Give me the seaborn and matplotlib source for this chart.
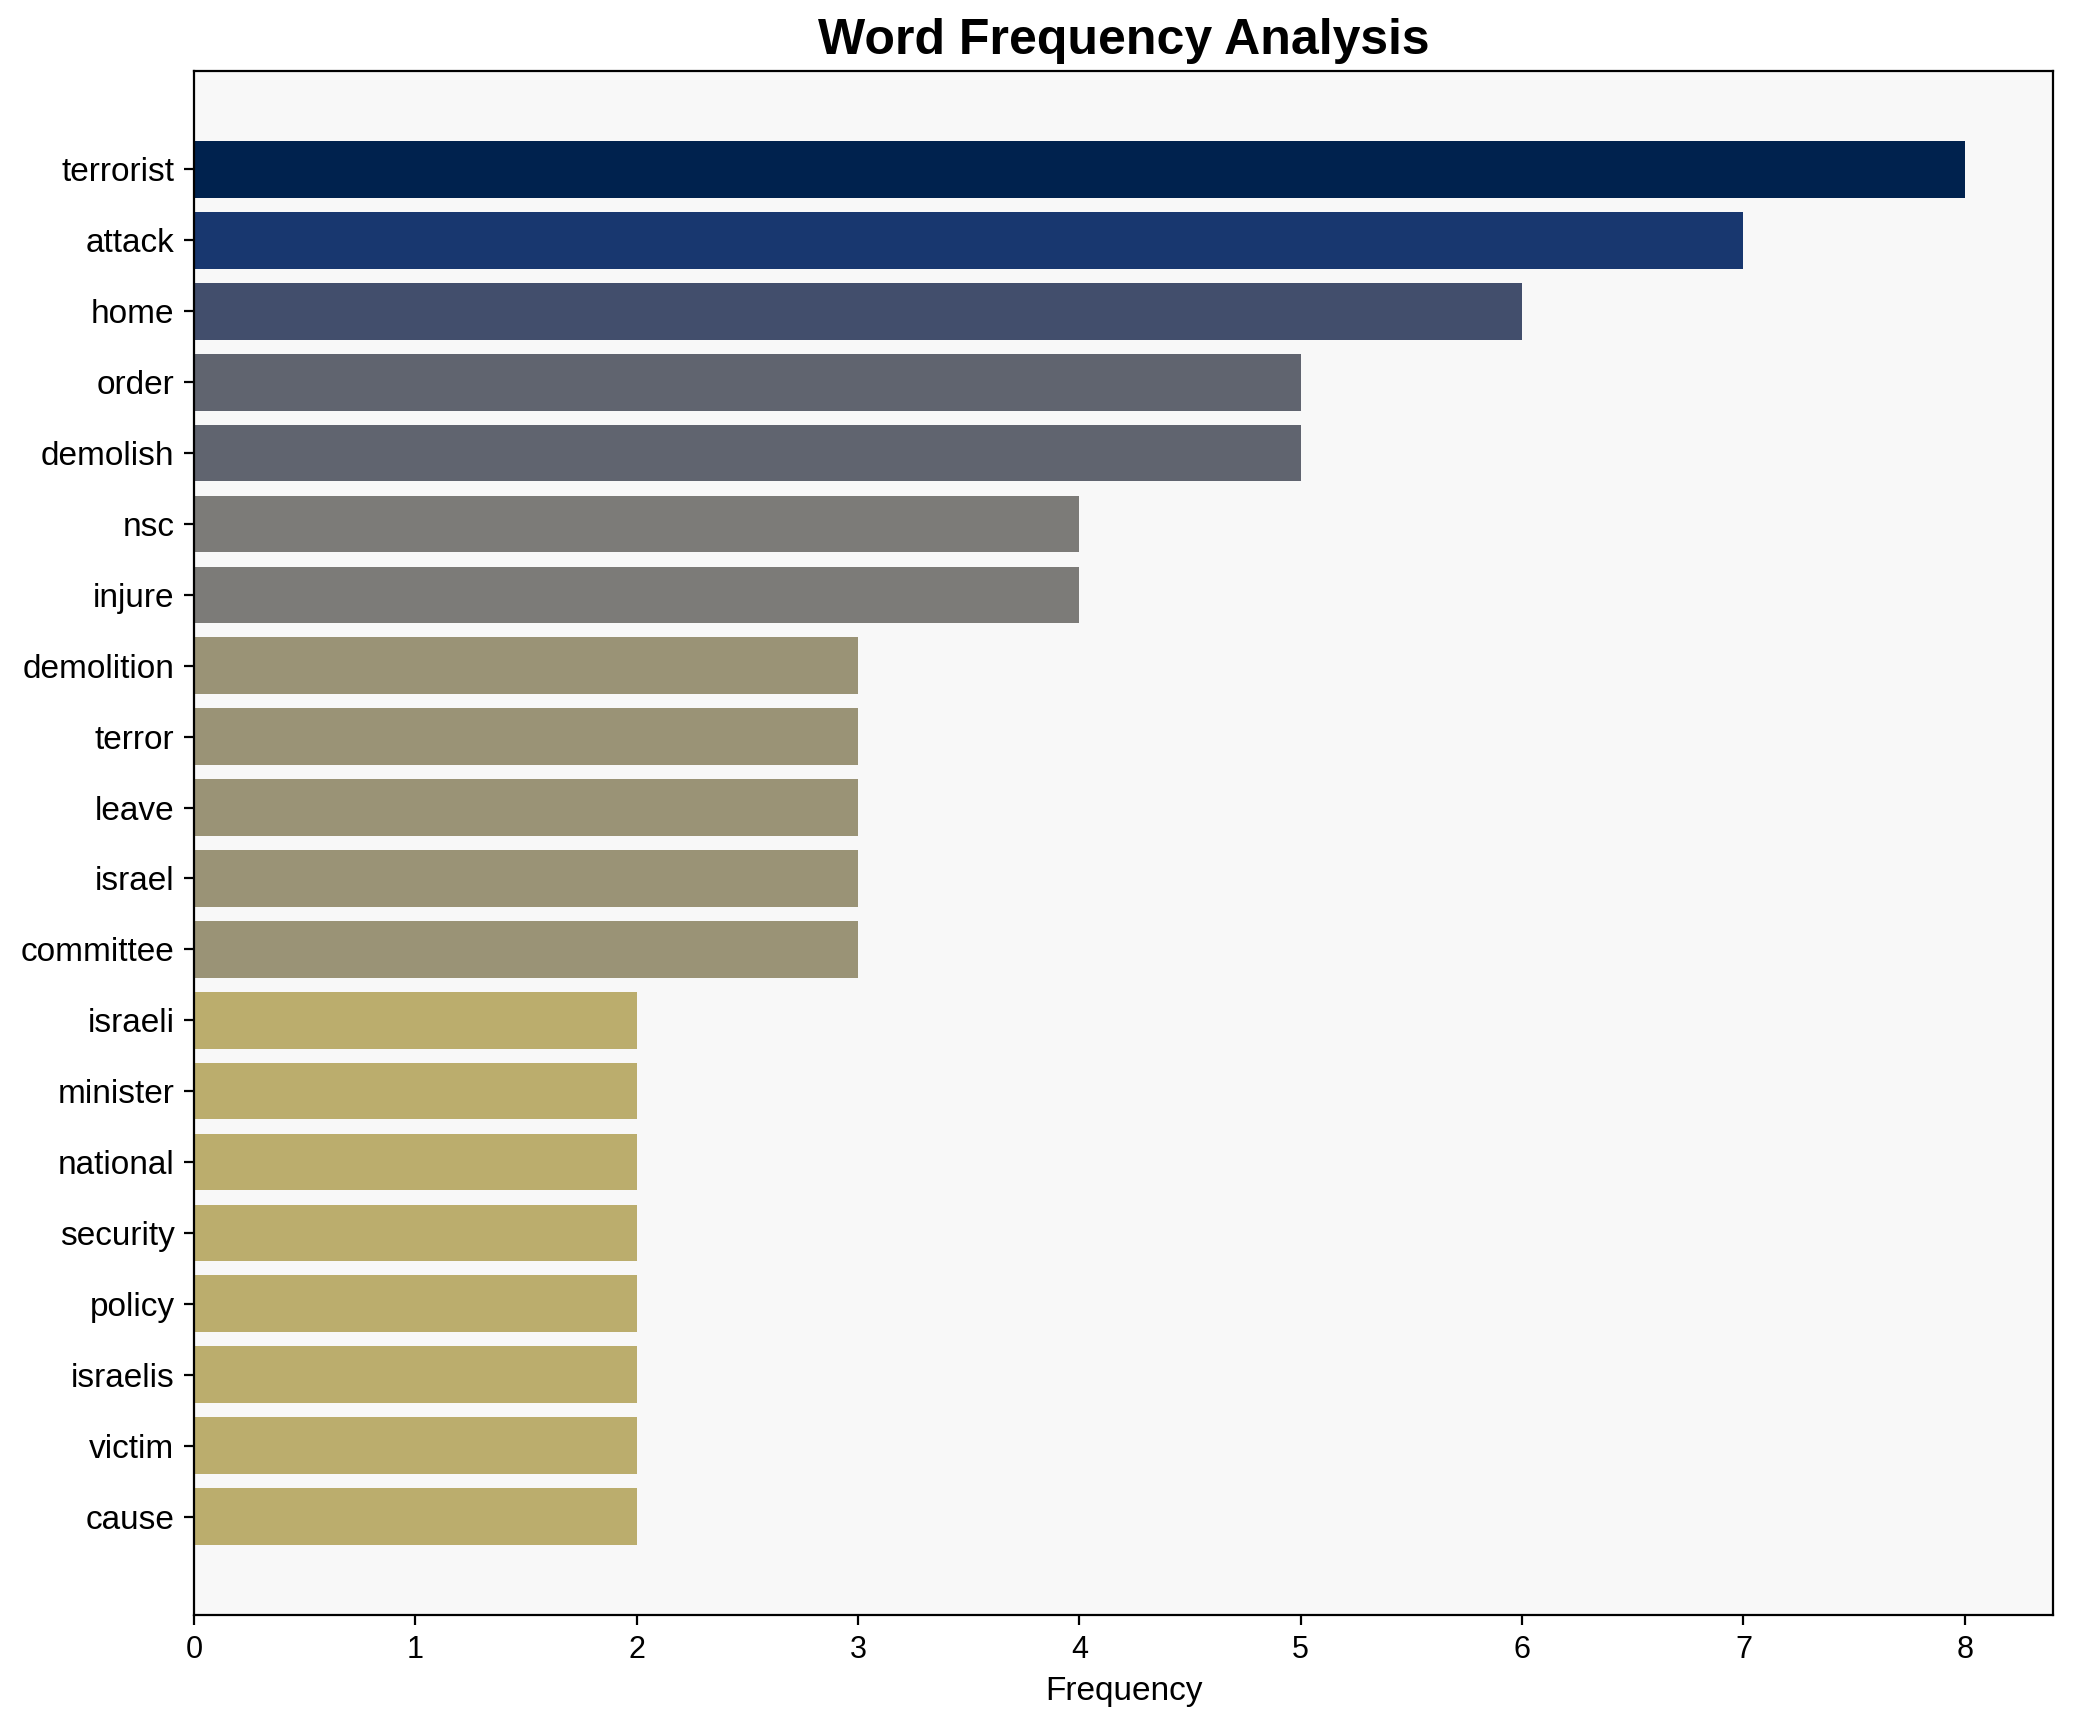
import pandas as pd
import numpy as np
import seaborn as sns
import matplotlib
matplotlib.use("Agg")
import matplotlib.pyplot as plt

## Data
words = ["terrorist", "attack", "home", "order", "demolish", "nsc", "injure",
         "demolition", "terror", "leave", "israel", "committee", "israeli",
         "minister", "national", "security", "policy", "israelis", "victim", "cause"]
freqs = [8, 7, 6, 5, 5, 4, 4, 3, 3, 3, 3, 3, 2, 2, 2, 2, 2, 2, 2, 2]

df = pd.DataFrame({"word": words, "freq": freqs})

## colours from cividis, darker for higher counts
cmap = plt.get_cmap("cividis_r")
pal = [cmap(f / max(freqs)) for f in freqs]

plt.rcParams['font.family'] = ['Liberation Sans', 'DejaVu Sans']

fig, ax = plt.subplots(figsize=(10.365, 8.61), dpi=200)
fig.subplots_adjust(left=0.0936, right=0.9905, top=0.9588, bottom=0.0621)
ax.set_facecolor("#f8f8f8")

sns.barplot(data=df, x="freq", y="word", hue="word", palette=pal,
            legend=False, width=0.8, saturation=1, ax=ax)

ax.set_title("Word Frequency Analysis", fontsize=18, fontweight="bold")
ax.set_xlabel("Frequency", fontsize=12)
ax.set_ylabel("")
ax.tick_params(axis="y", labelsize=12)
ax.tick_params(axis="x", labelsize=11)
ax.set_xlim(0, 8.4)
ax.set_ylim(len(words) - 1 + 1.39, -1.39)

plt.savefig("out.png", dpi=200)
